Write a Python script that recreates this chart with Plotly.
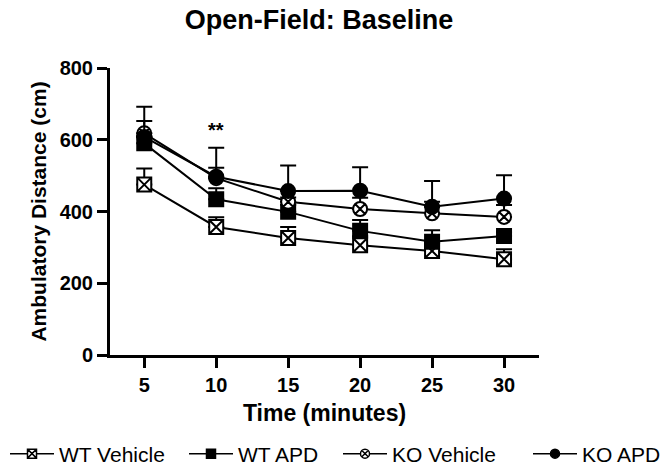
import plotly.graph_objects as go

time_min = [5, 10, 15, 20, 25, 30]

wt_vehicle = [475, 357, 326, 306, 290, 267]
wt_vehicle_err = [45, 27, 31, 25, 22, 28]

wt_apd = [590, 434, 399, 346, 316, 332]
wt_apd_err = [20, 31, 20, 30, 32, 10]

ko_vehicle = [618, 493, 427, 407, 395, 385]
ko_vehicle_err = [34, 29, 12, 31, 32, 33]

ko_apd = [608, 497, 457, 458, 413, 436]
ko_apd_err = [84, 81, 71, 65, 72, 65]

series = [
    ("WT Vehicle", wt_vehicle, wt_vehicle_err, "square-x", "white"),
    ("WT APD", wt_apd, wt_apd_err, "square", "black"),
    ("KO Vehicle", ko_vehicle, ko_vehicle_err, "circle-x", "white"),
    ("KO APD", ko_apd, ko_apd_err, "circle", "black"),
]
legend_ids = ["legend", "legend2", "legend3", "legend4"]
legend_x_px = [5, 184, 338, 528]

FONT = "Liberation Sans, Arial, sans-serif"
W, H = 662, 470

fig = go.Figure()
for (name, vals, err, sym, fill), lid in zip(series, legend_ids):
    fig.add_trace(go.Scatter(
        x=time_min, y=vals, name=name, mode="lines+markers", showlegend=False,
        line=dict(color="black", width=2),
        marker=dict(symbol=sym, size=14, color=fill,
                    line=dict(color="black", width=2)),
        error_y=dict(type="data", array=err, arrayminus=[0] * len(err),
                     symmetric=False, color="black", thickness=2, width=8),
    ))
    # legend-only entry with a smaller symbol, as in the reference key
    fig.add_trace(go.Scatter(
        x=[None], y=[None], name=name, mode="lines+markers", legend=lid,
        line=dict(color="black", width=1.5),
        marker=dict(symbol=sym, size=9, color=fill,
                    line=dict(color="black", width=1.5)),
    ))

fig.add_annotation(x=10, y=627, text="<b>**</b>", showarrow=False,
                   font=dict(size=20, color="black", family=FONT))

legend_cfg = {}
for lid, xp in zip(legend_ids, legend_x_px):
    legend_cfg[lid] = dict(
        orientation="h", x=xp / W, xanchor="left", xref="container",
        y=1 - 454 / H, yanchor="middle", yref="container",
        font=dict(size=21, family=FONT, color="black"),
        itemwidth=44, bgcolor="rgba(0,0,0,0)", borderwidth=0,
    )

fig.update_layout(
    width=W, height=H,
    margin=dict(l=110, r=123, t=68, b=115, autoexpand=False),
    paper_bgcolor="white", plot_bgcolor="white",
    font=dict(family=FONT, color="black"),
    title=dict(text="<b>Open-Field: Baseline</b>", x=0.482, xanchor="center",
               xref="container", y=1 - 20 / H, yanchor="middle", yref="container",
               font=dict(size=27, family=FONT, color="black")),
    showlegend=True,
    hovermode=False,
    **legend_cfg,
)

fig.update_xaxes(
    range=[2.62, 32.43], tickvals=time_min,
    ticktext=[f"<b>{t}</b>" for t in time_min],
    showline=True, linecolor="black", linewidth=3,
    ticks="outside", ticklen=10, tickwidth=3, tickcolor="black",
    showgrid=False, zeroline=False,
    tickfont=dict(size=20, family=FONT, color="black"),
    title=dict(text="<b>Time (minutes)</b>", standoff=10,
               font=dict(size=23, family=FONT, color="black")),
)
fig.update_yaxes(
    range=[0, 800], tickvals=[0, 200, 400, 600, 800],
    ticktext=["<b>0</b>", "<b>200</b>", "<b>400</b>", "<b>600</b>", "<b>800</b>"],
    showline=True, linecolor="black", linewidth=3,
    ticks="outside", ticklen=10, tickwidth=3, tickcolor="black",
    showgrid=False, zeroline=False,
    tickfont=dict(size=20, family=FONT, color="black"),
    title=dict(text="<b>Ambulatory Distance (cm)</b>", standoff=8,
               font=dict(size=21, family=FONT, color="black")),
)

fig.write_html("out.html", config={"displayModeBar": False},
               post_script="document.body.style.margin='0';document.body.style.overflow='hidden';")
